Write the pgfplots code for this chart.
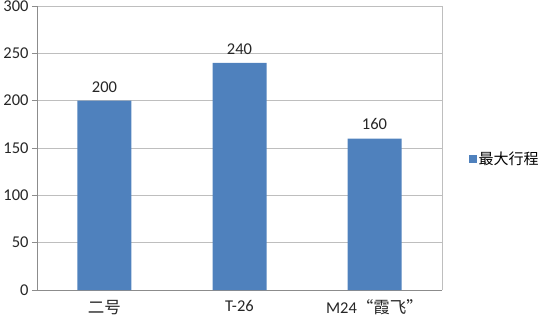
\documentclass[border=0pt]{standalone}
\usepackage{pgfplots}
\pgfplotsset{compat=1.18}
\usepackage{fontspec}
\setmainfont{Carlito}
\newfontfamily\cjk{Noto Sans CJK SC}
\definecolor{barblue}{HTML}{4F81BD}
\definecolor{gridgray}{HTML}{BEBEBE}
\definecolor{axgray}{HTML}{8C8C8C}
\begin{document}
\begin{tikzpicture}
\useasboundingbox (-37bp,-27bp) rectangle (507bp,290bp);
\begin{axis}[
  at={(0,0)}, anchor=south west,
  scale only axis, width=405bp, height=284bp,
  xmin=-0.5, xmax=2.5, ymin=0, ymax=300,
  ytick={0,50,100,150,200,250,300},
  xtick={0,1,2},
  xticklabels={{\cjk 二号},{T-26},{M24{\cjk “霞飞”}}},
  xtick style={draw=none},
  extra x ticks={-0.5,0.5,1.5,2.5},
  extra x tick labels={},
  extra x tick style={grid=none, tick style={draw=axgray, line width=0.6pt}, major tick length=5bp, tick align=outside},
  ytick style={draw=axgray, line width=0.6pt},
  major tick length=5bp, tick align=outside,
  axis x line*=bottom, axis y line*=left,
  axis line style={draw=axgray, line width=0.6pt, -},
  ymajorgrids, grid style={draw=gridgray, line width=0.6pt},
  /pgf/number format/assume math mode=true,
  tick label style={font=\fontsize{16.5bp}{18bp}\selectfont, text=black!85},
  xticklabel style={yshift=-1.5bp},
  ybar, bar width=54bp,
  nodes near coords,
  every node near coord/.append style={font=\fontsize{16.5bp}{18bp}\selectfont, text=black!85, yshift=5bp},
  legend style={at={(1.065,0.46)}, anchor=west, draw=none, fill=none, inner sep=0pt,
    font=\fontsize{15bp}{17bp}\selectfont\cjk},
  legend image code/.code={\fill[barblue] (0bp,-4bp) rectangle (8bp,4bp);},
  clip=false,
]
\addplot[fill=barblue, draw=none] coordinates {(0,200) (1,240) (2,160)};
\addlegendentry{最大行程}
\draw[draw=gridgray, line width=0.6pt] (axis cs:2.5,0) -- (axis cs:2.5,300);
\end{axis}
\end{tikzpicture}
\end{document}
